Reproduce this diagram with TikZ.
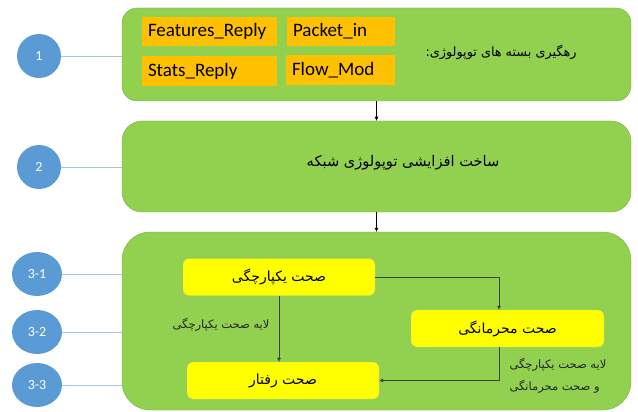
\documentclass[tikz,border=0pt]{standalone}
\usepackage{fontspec}
\setmainfont{Carlito}
\newfontfamily\farsi[Script=Arabic]{DejaVu Sans}
\TeXXeTstate=1
\usetikzlibrary{arrows.meta,shapes.geometric}
\definecolor{stagegreen}{HTML}{92D050}
\definecolor{stageedge}{HTML}{7AB44A}
\definecolor{pktorange}{HTML}{FFC000}
\definecolor{checkyellow}{HTML}{FFFF00}
\definecolor{checkedge}{HTML}{C9C98A}
\definecolor{markblue}{HTML}{5B9BD5}
\definecolor{tieblue}{HTML}{A9C4E2}
\definecolor{flowgray}{HTML}{404040}
\newcommand\fa[1]{{\farsi\beginR #1\endR}}
\tikzset{
	stage/.style={draw=stageedge, fill=stagegreen, minimum width=509pt, inner sep=0pt},
	packet/.style={fill=pktorange, font=\fontsize{19}{21}\selectfont, align=left, inner xsep=6pt, inner ysep=0pt, minimum height=29pt},
	check/.style={draw=checkedge, fill=checkyellow, rounded corners=6pt, minimum width=192pt, minimum height=37pt, font=\fontsize{14}{16}\selectfont},
	marker/.style={fill=markblue, text=white, font=\fontsize{14}{16}\selectfont, inner sep=0pt},
	tie/.style={draw=tieblue, thick},
	flow/.style={draw=flowgray, -{Latex[length=4pt,width=4pt]}},
	note/.style={font=\fontsize{11.5}{22}\selectfont, text=black!85},
}
\begin{document}
\begin{tikzpicture}[x=1pt,y=-1pt]
	\useasboundingbox (0,0) rectangle (638,412);
	% the three stages
	\node[stage, rounded corners=15pt, minimum height=93pt] (box1) at (376.5,54.5) {};
	\node[stage, rounded corners=20pt, minimum height=91pt] (box2) at (376.5,166.5) {};
	\node[stage, rounded corners=28pt, minimum height=178pt] (box3) at (376.5,321) {};
	% stage 1: packets
	\node[packet, text width=123pt] (feat) at (209.5,31.5) {Features\_Reply};
	\node[packet, text width=96pt] (pin) at (341,31.5) {Packet\_in};
	\node[packet, text width=123pt, minimum height=30pt] (stats) at (209.5,71) {Stats\_Reply};
	\node[packet, text width=97pt, minimum height=30pt] (fmod) at (340.5,70) {Flow\_Mod};
	\node[font=\fontsize{12.8}{15}\selectfont] (track) at (501,52) {\fa{رهگیری بسته های توپولوژی:}};
	% stage 2
	\node[font=\fontsize{14.6}{17}\selectfont] (build) at (403,163) {\fa{ساخت افزایشی توپولوژی شبکه}};
	% stage 3: checks
	\node[check] (integ) at (279,277) {\fa{صحت یکپارچگی}};
	\node[check, minimum width=193pt] (conf) at (507.5,328.5) {\fa{صحت محرمانگی}};
	\node[check] (behav) at (283,380.5) {\fa{صحت رفتار}};
	% arrows between stages
	\draw[flow, draw=black] (box1.south) -- (box2.north);
	\draw[flow, draw=black] (box2.south) -- (box3.north);
	% arrows between checks
	\draw[flow] (integ.south) -- (integ.south |- behav.north);
	\draw[flow] (integ.east) -| ([xshift=-8.5pt]conf.north);
	\draw[flow] ([xshift=-8.5pt]conf.south) |- (behav.east);
	\node[note, anchor=east] (lay1) at (273,325) {\fa{لایه صحت یکپارچگی}};
	\node[note, anchor=west, align=left] (lay2) at (506,376) {\fa{لایه صحت یکپارچگی}\\\fa{و صحت محرمانگی}};
	% step markers
	\node[marker, circle, minimum size=44pt] (m1) at (39,56) {1};
	\node[marker, circle, minimum size=44pt] (m2) at (39,167) {2};
	\node[marker, ellipse, minimum width=50pt, minimum height=44pt] (m31) at (37,274) {3-1};
	\node[marker, ellipse, minimum width=50pt, minimum height=44pt] (m32) at (37,332) {3-2};
	\node[marker, ellipse, minimum width=50pt, minimum height=44pt] (m33) at (37,385) {3-3};
	\draw[tie] (m1) -- (m1 -| box1.west);
	\draw[tie] (m2) -- (m2 -| box2.west);
	\draw[tie] (m31) -- (m31 -| box3.west);
	\draw[tie] (m32) -- (m32 -| box3.west);
	\draw[tie] (m33) -- (m33 -| box3.west);
\end{tikzpicture}
\end{document}
